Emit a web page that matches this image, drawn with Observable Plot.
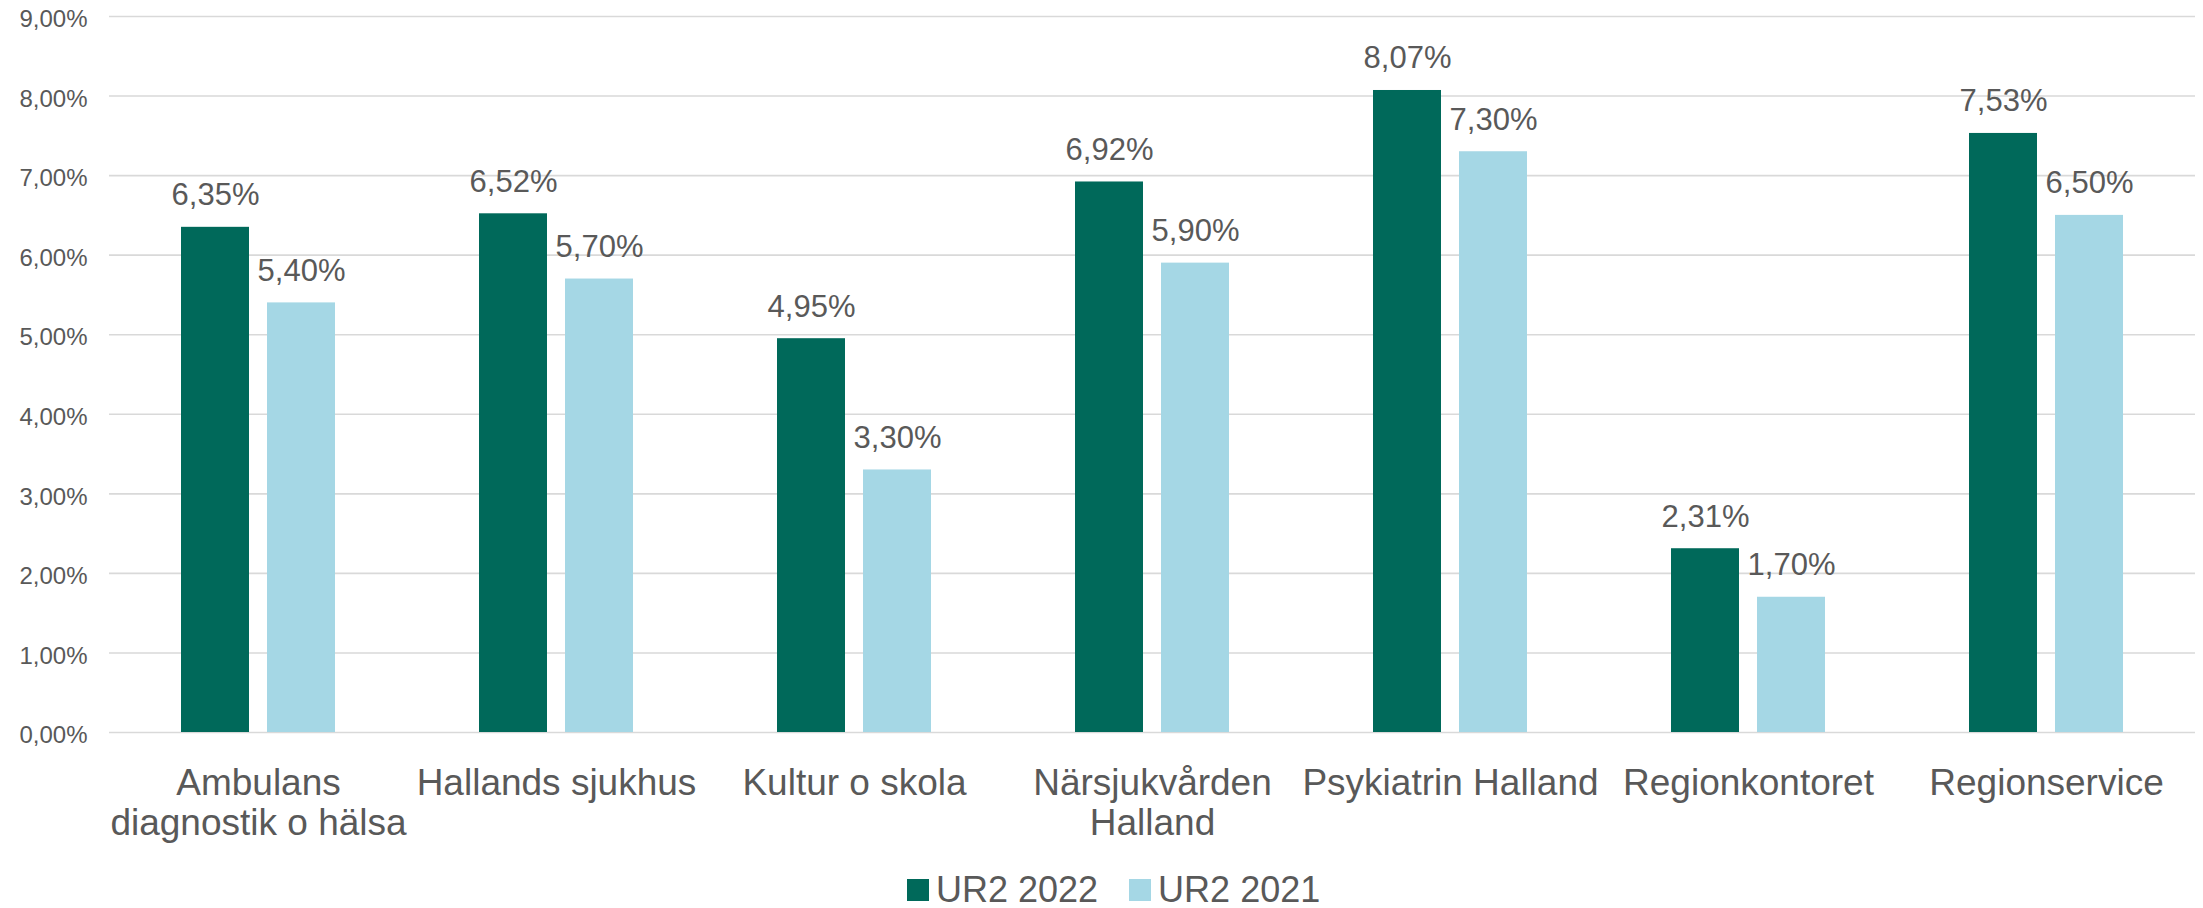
<!DOCTYPE html>
<html>
<head>
<meta charset="utf-8">
<script src="https://cdn.jsdelivr.net/npm/d3@7"></script>
<script src="https://cdn.jsdelivr.net/npm/@observablehq/plot@0.6"></script>
<style>
  html, body { margin: 0; padding: 0; background: #fff; }
  body { width: 2203px; height: 908px; position: relative; font-family: "Liberation Sans", Arial, sans-serif; }
  #chart svg { font-family: "Liberation Sans", Arial, sans-serif; display: block; }
  #legend { position: absolute; left: 907px; top: 872px; display: flex; align-items: center; font-size: 36px; line-height: 36px; color: #595959; white-space: nowrap; }
  #legend .item { display: flex; align-items: center; margin-right: 31px; }
  #legend .sw { width: 22px; height: 22px; margin-right: 7px; display: inline-block; }
</style>
</head>
<body>
<div id="chart"></div>
<div id="legend"></div>
<script>
const categories = ["Ambulans diagnostik o hälsa", "Hallands sjukhus", "Kultur o skola", "Närsjukvården Halland", "Psykiatrin Halland", "Regionkontoret", "Regionservice"];
const categoryLabels = ["Ambulans\ndiagnostik o hälsa", "Hallands sjukhus", "Kultur o skola", "Närsjukvården\nHalland", "Psykiatrin Halland", "Regionkontoret", "Regionservice"];
const series = ["UR2 2022", "UR2 2021"];
const values2022 = [6.35, 6.52, 4.95, 6.92, 8.07, 2.31, 7.53];
const values2021 = [5.40, 5.70, 3.30, 5.90, 7.30, 1.70, 6.50];
const colors = ["#00695A", "#A5D7E5"];
const yTicks = [0, 1, 2, 3, 4, 5, 6, 7, 8, 9];

const data = [];
categories.forEach((c, i) => {
  data.push({category: c, series: series[0], value: values2022[i]});
  data.push({category: c, series: series[1], value: values2021[i]});
});
const fmt = v => v.toFixed(2).replace(".", ",") + "%";
const labelOf = new Map(categories.map((c, i) => [c, categoryLabels[i]]));

const chart = Plot.plot({
  width: 2203,
  height: 850,
  marginLeft: 109,
  marginRight: 8,
  marginTop: 16,
  marginBottom: 118,
  style: {fontFamily: "'Liberation Sans', Arial, sans-serif", color: "#595959", background: "#fff"},
  fx: {domain: categories, paddingInner: 0, paddingOuter: 0, label: null},
  x: {domain: series, paddingInner: 0.209, paddingOuter: 0.837, axis: null},
  y: {domain: [0, 9], ticks: yTicks, label: null},
  color: {domain: series, range: colors},
  marks: [
    Plot.gridY(yTicks, {stroke: "#D9D9D9", strokeOpacity: 1, strokeWidth: 1.6}),
    Plot.axisY(yTicks, {tickSize: 0, tickPadding: 22, dy: 3, fontSize: 24, fill: "#595959", tickFormat: fmt, label: null}),
    Plot.barY(data, {fx: "category", x: "series", y: "value", fill: "series"}),
    Plot.text(data, {fx: "category", x: "series", y: "value", text: d => fmt(d.value), lineAnchor: "bottom", dy: -22, fontSize: 31, fill: "#595959"}),
    Plot.axisFx({anchor: "bottom", tickSize: 0, tickPadding: 34, fontSize: 37, lineHeight: 1.08, fill: "#595959", tickFormat: c => labelOf.get(c), label: null})
  ]
});
document.getElementById("chart").appendChild(chart);

const legend = document.getElementById("legend");
series.forEach((s, i) => {
  const item = document.createElement("div");
  item.className = "item";
  const sw = document.createElement("span");
  sw.className = "sw";
  sw.style.background = colors[i];
  const t = document.createElement("span");
  t.textContent = s;
  item.appendChild(sw);
  item.appendChild(t);
  legend.appendChild(item);
});
</script>
</body>
</html>
